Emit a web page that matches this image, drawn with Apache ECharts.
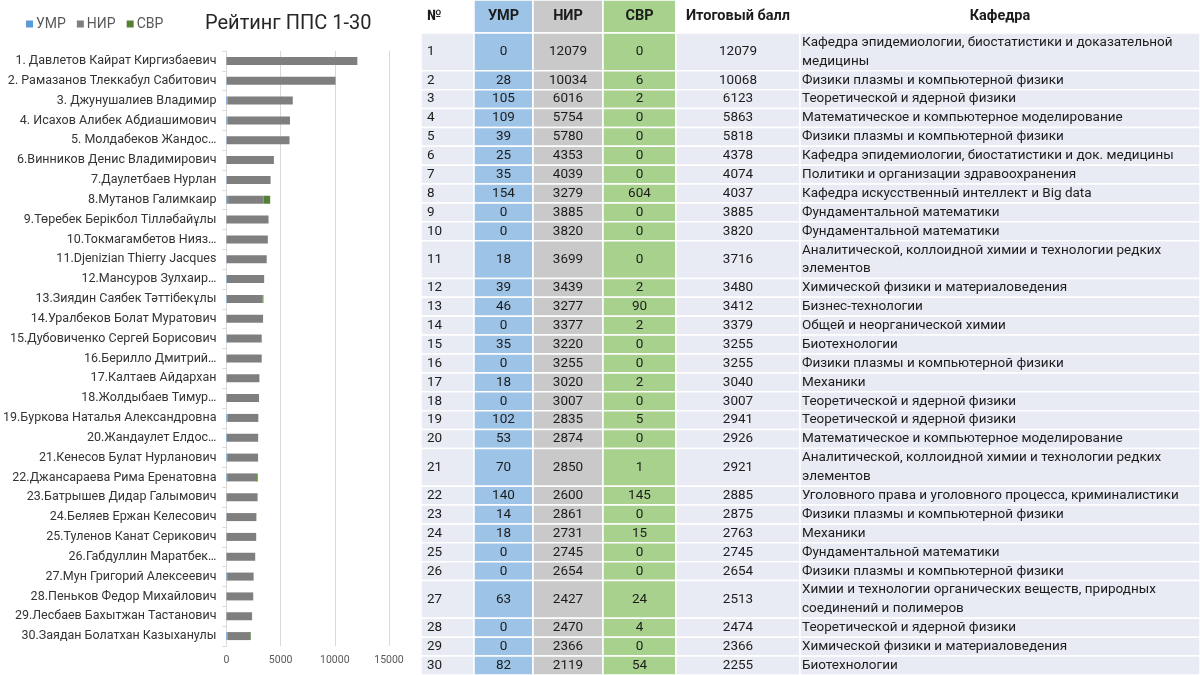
<!DOCTYPE html>
<html><head><meta charset="utf-8">
<script src="https://cdn.jsdelivr.net/npm/echarts/dist/echarts.min.js"></script>
<style>html,body{margin:0;padding:0;background:#fff}#c{width:1200px;height:675px}</style>
</head><body><div id="c"></div>
<script>
// ---------- DATA ----------
const chartTitle = 'Рейтинг ППС 1-30';
const seriesNames = ['УМР', 'НИР', 'СВР'];
const names = [
  '1. Давлетов Кайрат Киргизбаевич', '2. Рамазанов Тлеккабул Сабитович', '3. Джунушалиев Владимир',
  '4. Исахов Алибек Абдиашимович', '5. Молдабеков Жандос…', '6.Винников Денис Владимирович',
  '7.Даулетбаев Нурлан', '8.Мутанов Галимкаир', '9.Төребек Берікбол Тілләбайұлы',
  '10.Токмагамбетов Нияз…', '11.Djenizian Thierry Jacques', '12.Мансуров Зулхаир…',
  '13.Зиядин Саябек Тәттібекұлы', '14.Уралбеков Болат Муратович', '15.Дубовиченко Сергей Борисович',
  '16.Берилло Дмитрий…', '17.Калтаев Айдархан', '18.Жолдыбаев Тимур…',
  '19.Буркова Наталья Александровна', '20.Жандаулет Елдос…', '21.Кенесов Булат Нурланович',
  '22.Джансараева Рима Еренатовна', '23.Батрышев Дидар Галымович', '24.Беляев Ержан Келесович',
  '25.Туленов Канат Серикович', '26.Габдуллин Маратбек…', '27.Мун Григорий Алексеевич',
  '28.Пеньков Федор Михайлович', '29.Лесбаев Бахытжан Тастанович', '30.Заядан Болатхан Казыханулы'
];
const umr = [0, 28, 105, 109, 39, 25, 35, 154, 0, 0, 18, 39, 46, 0, 35, 0, 18, 0, 102, 53, 70, 140, 14, 18, 0, 0, 63, 0, 0, 82];
const nir = [12079, 10034, 6016, 5754, 5780, 4353, 4039, 3279, 3885, 3820, 3699, 3439, 3277, 3377, 3220, 3255, 3020, 3007, 2835, 2874, 2850, 2600, 2861, 2731, 2745, 2654, 2427, 2470, 2366, 2119];
const svr = [0, 6, 2, 0, 0, 0, 0, 604, 0, 0, 0, 2, 90, 2, 0, 0, 2, 0, 5, 0, 1, 145, 0, 15, 0, 0, 24, 4, 0, 54];
const totals = [12079, 10068, 6123, 5863, 5818, 4378, 4074, 4037, 3885, 3820, 3716, 3480, 3412, 3379, 3255, 3255, 3040, 3007, 2941, 2926, 2921, 2885, 2875, 2763, 2745, 2654, 2513, 2474, 2366, 2255];
const departments = [
  'Кафедра эпидемиологии, биостатистики и доказательной медицины',
  'Физики плазмы и компьютерной физики',
  'Теоретической и ядерной физики',
  'Математическое и компьютерное моделирование',
  'Физики плазмы и компьютерной физики',
  'Кафедра эпидемиологии, биостатистики и док. медицины',
  'Политики и организации здравоохранения',
  'Кафедра искусственный интеллект и Big data',
  'Фундаментальной математики',
  'Фундаментальной математики',
  'Аналитической, коллоидной химии и технологии редких элементов',
  'Химической физики и материаловедения',
  'Бизнес-технологии',
  'Общей и неорганической химии',
  'Биотехнологии',
  'Физики плазмы и компьютерной физики',
  'Механики',
  'Теоретической и ядерной физики',
  'Теоретической и ядерной физики',
  'Математическое и компьютерное моделирование',
  'Аналитической, коллоидной химии и технологии редких элементов',
  'Уголовного права и уголовного процесса, криминалистики',
  'Физики плазмы и компьютерной физики',
  'Механики',
  'Фундаментальной математики',
  'Физики плазмы и компьютерной физики',
  'Химии и технологии органических веществ, природных соединений и полимеров',
  'Теоретической и ядерной физики',
  'Химической физики и материаловедения',
  'Биотехнологии'
];
const tableHeaders = ['№', 'УМР', 'НИР', 'СВР', 'Итоговый балл', 'Кафедра'];
const xTickStep = 5000;
const xMax = 15000;

// ---------- LAYOUT / STYLE ----------
const FONT = 'Roboto';
const barColors = ['#5B9BD5', '#7F7F7F', '#548235'];
const tableLeft = 421, tableWidth = 779, tableHeight = 675, headerH = 33;
const colWidths = [53, 59, 70, 73, 124, 400];
const colAlign = ['left', 'center', 'center', 'center', 'center', 'left'];
const headFill = ['#ffffff', '#9DC3E6', '#C9C9C9', '#A9D18E', '#ffffff', '#ffffff'];
const bodyFill = ['#E9EBF4', '#9DC3E6', '#C9C9C9', '#A9D18E', '#E9EBF4', '#E9EBF4'];
const cellFont = 13.5, headFont = 14.5, cellPad = 6;

// measure text to wrap department names
const mctx = document.createElement('canvas').getContext('2d');
mctx.font = cellFont + 'px ' + FONT;
function wrap(text, maxW) {
  const words = text.split(' ');
  const lines = [];
  let cur = '';
  for (const w of words) {
    const t = cur ? cur + ' ' + w : w;
    if (mctx.measureText(t).width > maxW && cur) { lines.push(cur); cur = w; }
    else cur = t;
  }
  if (cur) lines.push(cur);
  return lines;
}
const deptLines = departments.map(d => wrap(d, colWidths[5] - 8));
const totalUnits = deptLines.reduce((s, l) => s + l.length, 0);
const rowUnit = (tableHeight - headerH) / totalUnits;

const colStart = [];
colWidths.reduce((acc, w, i) => { colStart[i] = acc; return acc + w; }, 0);

const cells = [];
tableHeaders.forEach((h, c) => {
  cells.push({ x0: colStart[c], x1: colStart[c] + colWidths[c], y0: 0, y1: headerH,
    text: h, fill: headFill[c], align: c === 0 ? 'left' : 'center', bold: true, col: c });
});
let yCur = headerH;
for (let r = 0; r < names.length; r++) {
  const n = deptLines[r].length;
  const h = n * rowUnit;
  const vals = [String(r + 1), String(umr[r]), String(nir[r]), String(svr[r]), String(totals[r]), deptLines[r].join('\n')];
  vals.forEach((v, c) => {
    cells.push({ x0: colStart[c], x1: colStart[c] + colWidths[c], y0: yCur, y1: yCur + h,
      text: v, fill: bodyFill[c], align: colAlign[c], bold: false, col: c });
  });
  yCur += h;
}

function renderCell(params, api) {
  const cell = cells[params.dataIndex];
  const p0 = api.coord([api.value(0), api.value(1)]);
  const p1 = api.coord([api.value(2), api.value(3)]);
  const x = Math.min(p0[0], p1[0]), y = Math.min(p0[1], p1[1]);
  const w = Math.abs(p1[0] - p0[0]), h = Math.abs(p1[1] - p0[1]);
  const tx = cell.align === 'center' ? x + w / 2 : x + (cell.col === 5 ? 2 : cellPad);
  return {
    type: 'group',
    children: [
      { type: 'rect', shape: { x, y, width: w, height: h },
        style: { fill: cell.fill, stroke: '#ffffff', lineWidth: 1.5 } },
      { type: 'text', style: {
          text: cell.text, x: tx, y: y + h / 2,
          align: cell.align, verticalAlign: 'middle',
          fontFamily: FONT, fontSize: cell.bold ? headFont : cellFont,
          fontWeight: cell.bold ? 'bold' : 'normal',
          lineHeight: rowUnit, fill: '#1c1c1c' } }
    ]
  };
}

const chart = echarts.init(document.getElementById('c'));
chart.setOption({
  backgroundColor: '#ffffff',
  animation: false,
  title: { text: chartTitle, left: 200, top: 9,
    textStyle: { fontFamily: FONT, fontSize: 20, fontWeight: 'normal', color: '#262626' } },
  legend: { left: 21, top: 12, icon: 'rect', itemWidth: 7, itemHeight: 7, itemGap: 11,
    data: seriesNames,
    textStyle: { fontFamily: FONT, fontSize: 14, color: '#595959', padding: [0, 0, 0, -2] } },
  grid: [
    { left: 225, top: 51, width: 164, height: 595 },
    { left: tableLeft, top: 0, width: tableWidth, height: tableHeight }
  ],
  xAxis: [
    { gridIndex: 0, type: 'value', min: 0, max: xMax, interval: xTickStep,
      axisLine: { show: false }, axisTick: { show: false },
      splitLine: { lineStyle: { color: '#D9D9D9' } },
      axisLabel: { fontFamily: FONT, fontSize: 10.5, color: '#595959', margin: 9,
        formatter: v => String(v) } },
    { gridIndex: 1, type: 'value', min: 0, max: tableWidth, show: false }
  ],
  yAxis: [
    { gridIndex: 0, type: 'category', inverse: true, data: names,
      axisLine: { lineStyle: { color: '#D9D9D9' } },
      axisTick: { show: true, length: 4, lineStyle: { color: '#D9D9D9' } },
      axisLabel: { fontFamily: FONT, fontSize: 12.5, color: '#333333', margin: 10 } },
    { gridIndex: 1, type: 'value', min: 0, max: tableHeight, inverse: true, show: false }
  ],
  series: [
    { name: seriesNames[0], type: 'bar', stack: 'total', data: umr, barWidth: 8,
      itemStyle: { color: barColors[0] }, xAxisIndex: 0, yAxisIndex: 0 },
    { name: seriesNames[1], type: 'bar', stack: 'total', data: nir, barWidth: 8,
      itemStyle: { color: barColors[1] }, xAxisIndex: 0, yAxisIndex: 0 },
    { name: seriesNames[2], type: 'bar', stack: 'total', data: svr, barWidth: 8,
      itemStyle: { color: barColors[2] }, xAxisIndex: 0, yAxisIndex: 0 },
    { type: 'custom', xAxisIndex: 1, yAxisIndex: 1, renderItem: renderCell,
      encode: { x: [0, 2], y: [1, 3] }, clip: false, silent: true,
      data: cells.map(c => [c.x0, c.y0, c.x1, c.y1]) }
  ]
});
</script>
</body></html>
